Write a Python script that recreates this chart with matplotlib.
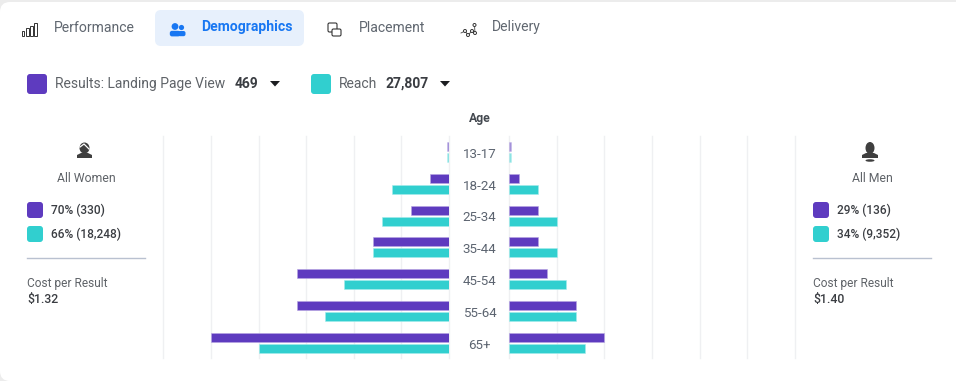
import matplotlib.pyplot as plt
from matplotlib.patches import FancyBboxPatch, Rectangle, Circle, Ellipse, Polygon

plt.rcParams['font.family'] = ['Roboto', 'DejaVu Sans']

ages = ['13-17', '18-24', '25-34', '35-44', '45-54', '55-64', '65+']
women_results = [0.2, 2, 4, 8, 16, 16, 25]
women_reach = [0.2, 6, 7, 8, 11, 13, 20]
men_results = [0.2, 1, 3, 3, 4, 7, 10]
men_reach = [0.2, 3, 5, 5, 6, 7, 8]
grid_ticks = [0, 5, 10, 15, 20, 25, 30]

tabs = ['Performance', 'Demographics', 'Placement', 'Delivery']
PURPLE = '#5e3bbf'
TEAL = '#31cfcf'
W, H = 956, 381


def px_axes(fig, x0, y0, x1, y1):
    return fig.add_axes([x0 / W, 1 - y1 / H, (x1 - x0) / W, (y1 - y0) / H])


def swatch(ax, x, y, size, color):
    ax.add_patch(FancyBboxPatch((x + 3, y + 3), size - 6, size - 6, boxstyle='round,pad=3',
                                fc=color, ec='none'))


def plot_side(ax, results, reach, xlim):
    rows = range(len(ages))
    for i in rows:
        # the tiny 13-17 bars come out pale in the original
        a = 0.55 if results[i] < 0.5 else 1
        ax.barh(i - 0.173, results[i], height=0.283, color=PURPLE, ec='#b7a6e3', lw=0.4, alpha=a, zorder=3)
        ax.barh(i + 0.173, reach[i], height=0.283, color=TEAL, ec='#a5ecec', lw=0.4, alpha=a, zorder=3)
    ax.set_xlim(*xlim)
    ax.set_ylim(6.47, -0.5)
    ax.set_xticks(grid_ticks)
    ax.set_yticks([])
    ax.tick_params(length=0, labelbottom=False)
    ax.grid(axis='x', color='#eff0f2', lw=1, zorder=0)
    for line in ax.get_xgridlines():
        line.set_clip_on(False)
    ax.patch.set_alpha(0)
    for s in ax.spines.values():
        s.set_visible(False)


def person_panel(ax, x, title, center, rows, cost):
    ax.text(center, 178, title, ha='center', va='center', fontsize=8.8, color='#5f6368')
    for y, color, label in zip([202, 226], [PURPLE, TEAL], rows):
        swatch(ax, x, y, 16, color)
        ax.text(x + 24, y + 8, label, ha='left', va='center', fontsize=8.6,
                fontweight='medium', color='#3a3d42')
    ax.plot([x, x + 118], [258, 258], color='#b9c1d0', lw=1)
    ax.text(x, 283, 'Cost per Result', ha='left', va='center', fontsize=8.6, color='#5f6368')
    ax.text(x, 299, cost, ha='left', va='center', fontsize=8.8, fontweight='medium', color='#3a3d42')


def draw_chrome(ax):
    ax.set_xlim(0, W)
    ax.set_ylim(H, 0)
    ax.axis('off')

    # card
    ax.add_patch(FancyBboxPatch((10, 12), W + 20, 359, boxstyle='round,pad=10',
                                fc='white', ec='none', zorder=0))

    # tabs
    ax.add_patch(FancyBboxPatch((161, 16), 137, 24, boxstyle='round,pad=6',
                                fc='#e7f0fc', ec='none'))
    tab_x = [54, 201, 359, 492]
    for name, x in zip(tabs, tab_x):
        active = name == 'Demographics'
        ax.text(x, 27.5, name, ha='left', va='center', fontsize=10.1,
                color='#1877f2' if active else '#606770',
                fontweight='bold' if active else 'normal')

    # performance icon
    for x, top in zip([22, 26.5, 30.5, 34.5], [31, 28, 26, 23]):
        ax.add_patch(Rectangle((x, top), 2.2, 36 - top, fc='none', ec='#333333', lw=0.7))

    # demographics icon
    ax.add_patch(Circle((175, 26.5), 3.4, fc='#1877f2', ec='none'))
    ax.add_patch(Circle((181.5, 27.5), 2.6, fc='#1877f2', ec='none'))
    ax.add_patch(FancyBboxPatch((172, 33), 6, 1.2, boxstyle='round,pad=2.2', fc='#1877f2', ec='none'))
    ax.add_patch(FancyBboxPatch((180, 33), 3.5, 1.2, boxstyle='round,pad=2', fc='#1877f2', ec='none'))

    # placement icon
    ax.add_patch(FancyBboxPatch((329.5, 24.5), 6, 6, boxstyle='round,pad=1.5', fc='none', ec='#333333', lw=0.8))
    ax.add_patch(FancyBboxPatch((333.5, 30.5), 6, 4, boxstyle='round,pad=1.5', fc='white', ec='#333333', lw=0.8))

    # delivery icon
    pts = [(461, 33), (465, 31), (468, 35), (472, 31), (475, 33), (474.5, 25)]
    ax.plot([p[0] for p in pts], [p[1] for p in pts], color='#444444', lw=0.6)
    for p in pts[1:]:
        ax.add_patch(Circle(p, 1.5, fc='white', ec='#333333', lw=0.7, zorder=4))

    # metric selectors
    swatch(ax, 27, 74, 20, PURPLE)
    ax.text(55, 84, 'Results: Landing Page View', ha='left', va='center', fontsize=10, color='#5f6368')
    ax.text(235, 84, '469', ha='left', va='center', fontsize=10, fontweight='bold', color='#3a3d42')
    ax.add_patch(Polygon([(270, 81), (280, 81), (275, 86.5)], fc='#1c1e21', ec='none'))
    swatch(ax, 311, 74, 20, TEAL)
    ax.text(339, 84, 'Reach', ha='left', va='center', fontsize=10, color='#5f6368')
    ax.text(386, 84, '27,807', ha='left', va='center', fontsize=10, fontweight='bold', color='#3a3d42')
    ax.add_patch(Polygon([(440, 81), (450, 81), (445, 86.5)], fc='#1c1e21', ec='none'))

    ax.text(479.5, 118.5, 'Age', ha='center', va='center', fontsize=8.8, fontweight='bold', color='#444950')

    # age labels
    for i, age in enumerate(ages):
        ax.text(479.5, 154.3 + 31.8 * i, age, ha='center', va='center', fontsize=9.6, color='#5c6470')

    # women icon
    ax.add_patch(Ellipse((84.5, 148), 10, 11, fc='#3f3f3f', ec='none'))
    ax.plot([80, 84, 89], [147, 144, 149], color='white', lw=0.9)
    ax.add_patch(Polygon([(77, 158), (77, 155), (81, 153), (88, 153), (92, 155), (92, 158)],
                         fc='#3f3f3f', ec='none'))

    # men icon
    ax.add_patch(Ellipse((870, 148), 9, 12, fc='#3f3f3f', ec='none'))
    ax.add_patch(Polygon([(862, 158), (862, 155), (866, 153), (874, 153), (878, 155), (878, 158)],
                         fc='#3f3f3f', ec='none'))
    ax.add_patch(Ellipse((870, 160.5), 9, 2.5, fc='#3f3f3f', ec='none'))

    person_panel(ax, 27, 'All Women', 86, ['70% (330)', '66% (18,248)'], '$1.32')
    person_panel(ax, 813, 'All Men', 872, ['29% (136)', '34% (9,352)'], '$1.40')


def main():
    fig = plt.figure(figsize=(W / 100, H / 100), dpi=100, facecolor='#ececec')

    chrome = px_axes(fig, 0, 0, W, H)
    draw_chrome(chrome)

    left = px_axes(fig, 163.3, 136, 449, 358)
    plot_side(left, women_results, women_reach, (30, 0))
    right = px_axes(fig, 509, 136, 795, 358)
    plot_side(right, men_results, men_reach, (0, 30))

    fig.savefig('out.png', dpi=100, facecolor=fig.get_facecolor())


if __name__ == '__main__':
    main()
